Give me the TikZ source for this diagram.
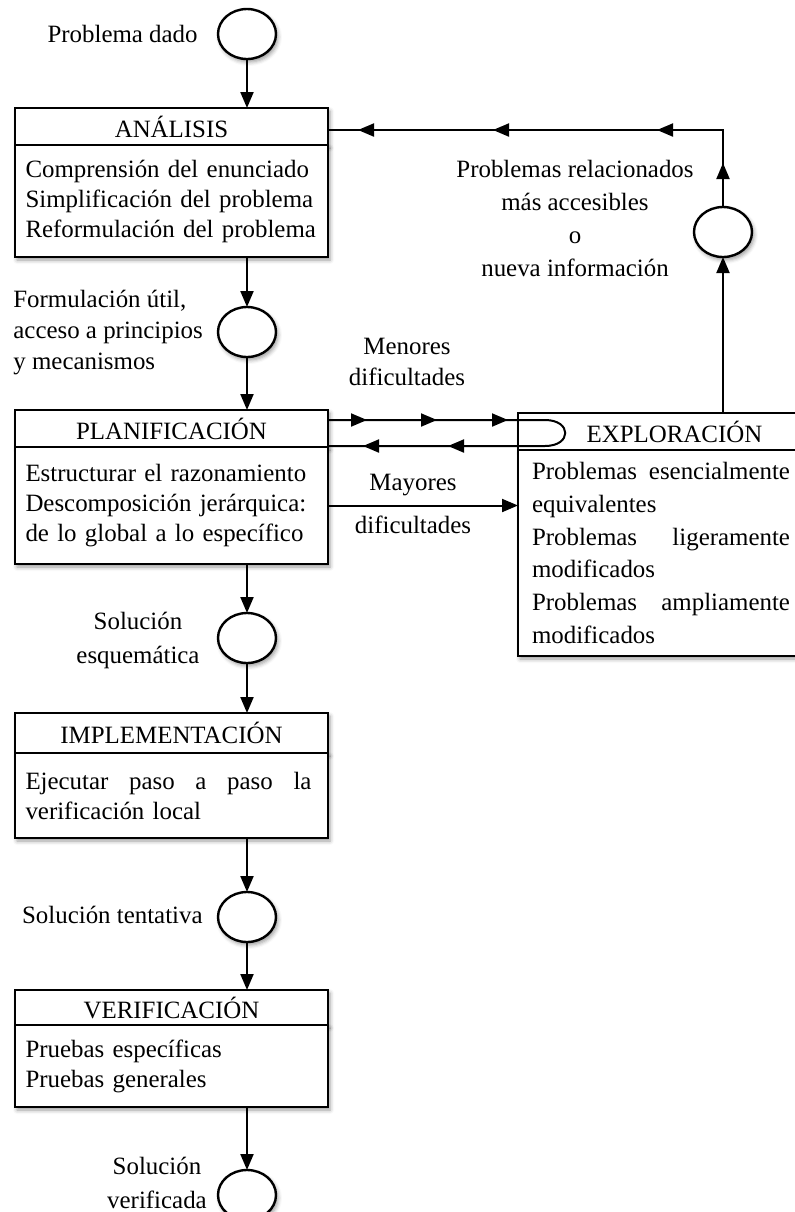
\documentclass[tikz,border=0pt]{standalone}
\usepackage{fontspec}
\setmainfont{Liberation Serif}
\usetikzlibrary{shapes.geometric,arrows.meta,decorations.markings,shadows.blur,positioning}

\tikzset{
    >={Triangle[length=8pt,width=6.5pt]},
    soft/.style={blur shadow={shadow xshift=1pt, shadow yshift=-1.5pt, shadow blur radius=2pt, shadow opacity=40}},
    stage/.style={draw, fill=white, line width=1.2pt, minimum width=156.5pt, minimum height=18.5pt, inner sep=0pt, outer sep=0pt, soft},
    stagebody/.style={stage, anchor=north, text width=146pt, inner xsep=5.25pt, align=left, execute at begin node={\hyphenpenalty=10000}},
    state/.style={ellipse, draw, fill=white, line width=1.2pt, minimum width=29pt, minimum height=25pt, inner sep=0pt, outer sep=0pt, soft},
    flow/.style={line width=1pt, ->},
    lbl/.style={inner sep=0pt, align=center},
}

\begin{document}
\begin{tikzpicture}[x=0.5pt, y=-0.5pt, font=\fontsize{12.45}{15}\selectfont]
    \useasboundingbox (0,0) rectangle (794,1212);

    % main column
    \node[state] (c0) at (247,34) {};
    \node[lbl, anchor=east] (l0) at (198,34) {Problema dado};

    \node[stage, anchor=north] (ana) at (171.5,108) {ANÁLISIS};
    \node[stagebody, minimum height=56pt] (anab) at (ana.south)
        {Comprensión del enunciado\\Simplificación del problema\\Reformulación del problema};

    \node[state] (c1) at (247,332) {};
    \node[lbl, anchor=west, align=left] (l1) at (13,333)
        {Formulación útil,\\[0.5pt]acceso a principios\\[0.5pt]y mecanismos};

    \node[stage, anchor=north] (plan) at (171.5,410) {PLANIFICACIÓN};
    \node[stagebody, minimum height=58.5pt] (planb) at (plan.south)
        {Estructurar el razonamiento\\Descomposición jerárquica:\\de lo global a lo específico};

    \node[state] (c2) at (247,638) {};
    \node[lbl] (l2) at (138,640) {Solución\\[2pt]esquemática};

    \node[stage, anchor=north, minimum height=20pt] (impl) at (171.5,713) {IMPLEMENTACIÓN};
    \node[stagebody, minimum height=42.5pt] (implb) at (impl.south)
        {\makebox[143pt][s]{Ejecutar\hfill paso\hfill a\hfill paso\hfill la}\\verificación local};

    \node[state] (c3) at (247,917) {};
    \node[lbl, anchor=east] (l3) at (203,915) {Solución tentativa};

    \node[stage, anchor=north, minimum height=17.5pt] (ver) at (171.5,990) {VERIFICACIÓN};
    \node[stagebody, minimum height=41pt] (verb) at (ver.south)
        {Pruebas específicas\\Pruebas generales};

    \node[state] (c4) at (247,1195) {};
    \node[lbl] (l4) at (157,1183) {Solución\\[2pt]verificada};

    % exploration branch
    \node[stage, anchor=north] (expl) at (674.5,413) {EXPLORACIÓN};
    \node[stagebody, minimum height=103pt, text width=142.5pt, inner xsep=7pt] (explb) at (expl.south)
        {\makebox[129pt][s]{Problemas\hfill esencialmente}\\[1.4pt]equivalentes\\[1.4pt]
         \makebox[129pt][s]{Problemas\hfill ligeramente}\\[1.4pt]modificados\\[1.4pt]
         \makebox[129pt][s]{Problemas\hfill ampliamente}\\[1.4pt]modificados};

    \node[state] (rc) at (723,232) {};
    \coordinate (topc) at (723,130);
    \node[lbl] (lrc) at (575,218)
        {Problemas relacionados\\[1.5pt]más accesibles\\[1.5pt]o\\[1.5pt]nueva información};

    \node[lbl] (lmen) at (407,362) {Menores\\[0.5pt]dificultades};
    \node[lbl] (lmay) at (413,485) {Mayores};
    \node[lbl] (ldif) at (413,525) {dificultades};

    \coordinate (lpu) at (545,420);
    \coordinate (lpd) at (545,446);

    % connectors
    \draw[flow] (c0) -- (c0 |- ana.north);
    \draw[flow] (c0 |- anab.south) -- (c1);
    \draw[flow] (c1) -- (c1 |- plan.north);
    \draw[flow] (c2 |- planb.south) -- (c2);
    \draw[flow] (c2) -- (c2 |- impl.north);
    \draw[flow] (c3 |- implb.south) -- (c3);
    \draw[flow] (c3) -- (c3 |- ver.north);
    \draw[flow] (c4 |- verb.south) -- (c4);

    \draw[flow] (planb.east) -- (planb.east -| explb.west);

    \draw[line width=1pt, postaction={decorate}, decoration={markings,
            mark=at position 19.5pt with {\arrow{>}},
            mark=at position 54.5pt with {\arrow{>}},
            mark=at position 90pt with {\arrow{>}},
            mark=at position -60pt with {\arrow{>}},
            mark=at position -17.5pt with {\arrow{>}}}]
        (plan.east |- lpu) -- (lpu) .. controls +(27,0) and +(27,0) .. (lpd) -- (plan.east |- lpd);

    \draw[flow] (rc |- expl.north) -- (rc.south);
    \draw[line width=1pt, postaction={decorate}, decoration={markings,
            mark=at position 22pt with {\arrow{>}},
            mark=at position 71.5pt with {\arrow{>}},
            mark=at position 153.5pt with {\arrow{>}},
            mark=at position 221pt with {\arrow{>}}}]
        (rc.north) |- (ana.east |- topc);
\end{tikzpicture}
\end{document}
